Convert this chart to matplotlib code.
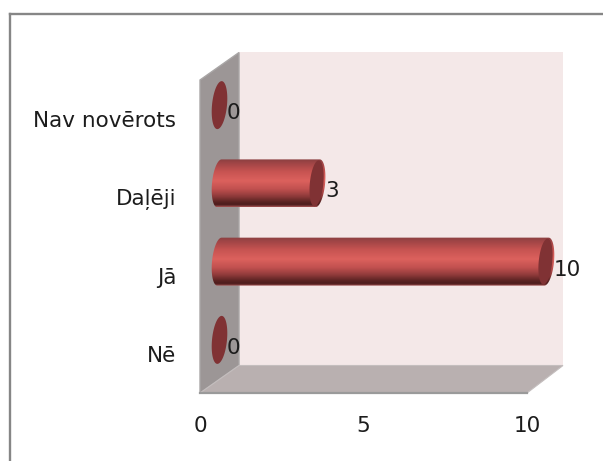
import numpy as np
import matplotlib
matplotlib.use('Agg')
import matplotlib.pyplot as plt
from matplotlib.colors import LinearSegmentedColormap
from matplotlib.lines import Line2D
from matplotlib.patches import Polygon

categories = ['Nē', 'Jā', 'Daļēji', 'Nav novērots']
values = [0, 10, 3, 0]
x_ticks = [0, 5, 10]

W, H = 603, 461
LEFT, RIGHT, TOP, BOTTOM = 200, 527, 80, 393
px_x = (RIGHT - LEFT) / 10.0   # pixels per unit on x
px_y = (BOTTOM - TOP) / 4.0    # pixels per category

# depth of the fake 3D box and of the bars, in data units
box_dx = 39.0 / px_x
box_dy = 27.5 / px_y
back_right = (563.0 - LEFT) / px_x
bar_dx = 19.5 / px_x
bar_dy = 14.0 / px_y

shade = LinearSegmentedColormap.from_list('cyl', [
    (0.00, '#8c4041'), (0.08, '#a04546'), (0.25, '#c65351'), (0.45, '#dc615d'),
    (0.62, '#c25150'), (0.78, '#8f3a3a'), (0.90, '#5a2322'), (0.96, '#4c1c1c'),
    (1.00, '#a05050')])

fig = plt.figure(figsize=(W / 100, H / 100), dpi=100)
ax = fig.add_axes([LEFT / W, 1 - BOTTOM / H, (RIGHT - LEFT) / W, (BOTTOM - TOP) / H])
ax.patch.set_visible(False)
for s in ax.spines.values():
    s.set_visible(False)

# outer frame, only top and left show
fig.add_artist(Line2D([9.5 / W, 1], [1 - 14 / H, 1 - 14 / H], color='#868686', lw=1.7))
fig.add_artist(Line2D([9.5 / W, 9.5 / W], [1 - 14 / H, 0], color='#868686', lw=1.7))

# walls
ax.fill([box_dx, back_right, back_right, box_dx], [box_dy, box_dy, 4 + box_dy, 4 + box_dy],
        color='#f4e8e8', lw=0, clip_on=False, zorder=1)
ax.fill([0, box_dx, box_dx, 0], [0, box_dy, 4 + box_dy, 4], facecolor='#9c9696',
        edgecolor='#a9a6a6', lw=1, clip_on=False, zorder=2)
ax.fill([0, box_dx, back_right, 10], [0, box_dy, box_dy, 0], facecolor='#b9b0b0',
        edgecolor='#c4bebe', lw=0.8, clip_on=False, zorder=2)
ax.plot([0, 10], [0, 0], color='#9a9a9a', lw=1.6, clip_on=False, zorder=3)


def ellipse(cx, cy, a, b):
    # slightly tilted end cap, cx, cy in data units, a, b in pixels
    t = np.linspace(0, 2 * np.pi, 90)
    px = a * np.cos(t) + 0.09 * b * np.sin(t)
    py = b * np.sin(t)
    return t, cx + px / px_x, cy + py / px_y


A, B = 7.5, 24.0
for i, (name, val) in enumerate(zip(categories, values)):
    cy = i + 0.5 + bar_dy
    x0 = bar_dx
    x1 = val + bar_dx
    if val > 0:
        t, ex0, ey0 = ellipse(x0, cy, A, B)
        t, ex1, ey1 = ellipse(x1, cy, A, B)
        left = np.cos(t) <= 0
        right = np.cos(t) >= 0
        # outline of the tube: left half of first cap then right half of last cap
        lx, ly = ex0[left], ey0[left]
        order = np.argsort(-ly)
        rx, ry = ex1[right], ey1[right]
        order2 = np.argsort(ry)
        outline = np.column_stack([np.r_[lx[order], rx[order2]], np.r_[ly[order], ry[order2]]])
        im = ax.imshow(np.linspace(0, 1, 64)[:, None], cmap=shade, aspect='auto', origin='upper',
                       extent=(x0 - 1, x1 + 1, cy - B / px_y, cy + B / px_y),
                       interpolation='bilinear', zorder=5)
        clip = Polygon(outline, closed=True, transform=ax.transData)
        im.set_clip_box(fig.bbox)
        im.set_clip_path(clip)
    # end cap at the value
    t, ex, ey = ellipse(x1 - (1.0 / px_x if val > 0 else 0), cy, A if val == 0 else 6.8, B if val == 0 else 23)
    ax.fill(ex, ey, facecolor='#803234', edgecolor='none', clip_on=False, zorder=6)
    ax.annotate(str(val), (val, i + 0.5), xytext=(27, 6),
                textcoords='offset pixels', ha='left', va='center', fontsize=15.5,
                color='#1c1c1c', annotation_clip=False, zorder=7)

ax.set_xlim(0, 10)
ax.set_ylim(0, 4)
ax.set_xticks(x_ticks)
ax.set_yticks([i + 0.5 for i in range(len(categories))])
ax.set_yticklabels(categories)
ax.tick_params(axis='both', length=0, labelsize=15.5, labelcolor='#1c1c1c')
ax.tick_params(axis='x', pad=16.5)
ax.tick_params(axis='y', pad=17)
for lab in ax.get_yticklabels():
    lab.set_y(lab.get_position()[1])

fig.savefig('out.png', dpi=100)
